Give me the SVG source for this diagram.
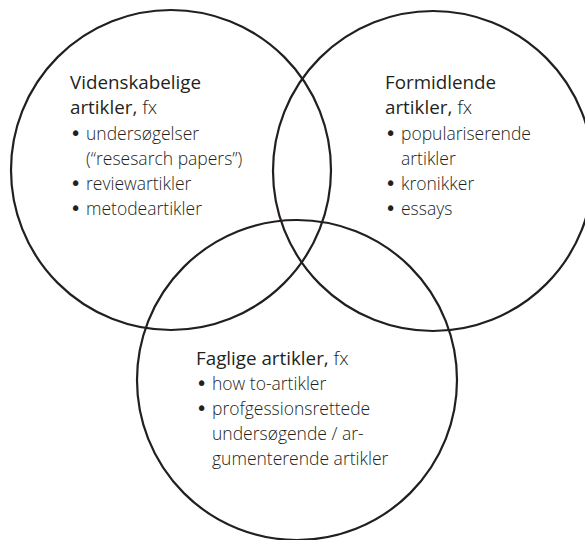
<svg xmlns="http://www.w3.org/2000/svg" width="585" height="540" viewBox="0 0 585 540">
<style>
.c{fill:none;stroke:#231f20;stroke-width:2.2}
text{font-family:"Open Sans","Noto Sans","Liberation Sans",sans-serif;font-size:17.5px;fill:#231f20}
.h{font-weight:400;font-size:18.8px}
.l{font-weight:300}
.b{font-family:"DejaVu Sans","Liberation Sans",sans-serif;font-size:19px}
</style>
<rect width="585" height="540" fill="#fff"/>
<g id="videnskabelige">
<circle class="c" cx="171" cy="170" r="160"/>
<text class="h" x="70" y="89">Videnskabelige</text>
<text x="70" y="114"><tspan class="h">artikler,</tspan><tspan class="l" font-size="18.8"> fx</tspan></text>
<text class="b" x="70" y="140">•</text><text class="l" x="86" y="140">undersøgelser</text>
<text class="l" x="86" y="165">(“resesarch papers”)</text>
<text class="b" x="70" y="190">•</text><text class="l" x="86" y="190">reviewartikler</text>
<text class="b" x="70" y="215">•</text><text class="l" x="86" y="215">metodeartikler</text>
</g>
<g id="formidlende">
<circle class="c" cx="433" cy="171" r="160"/>
<text class="h" x="385" y="89">Formidlende</text>
<text x="385" y="114"><tspan class="h">artikler,</tspan><tspan class="l" font-size="18.8"> fx</tspan></text>
<text class="b" x="385" y="140">•</text><text class="l" x="401" y="140">populariserende</text>
<text class="l" x="401" y="165">artikler</text>
<text class="b" x="385" y="190">•</text><text class="l" x="401" y="190">kronikker</text>
<text class="b" x="385" y="215">•</text><text class="l" x="401" y="215">essays</text>
</g>
<g id="faglige">
<circle class="c" cx="297" cy="380" r="160"/>
<text x="196" y="365"><tspan class="h">Faglige artikler,</tspan><tspan class="l" font-size="18.8"> fx</tspan></text>
<text class="b" x="196" y="390">•</text><text class="l" x="212" y="390">how to-artikler</text>
<text class="b" x="196" y="415">•</text><text class="l" x="212" y="415">profgessionsrettede</text>
<text class="l" x="212" y="440">undersøgende / ar-</text>
<text class="l" x="212" y="465">gumenterende artikler</text>
</g>
<g id="connectors"></g>
</svg>
